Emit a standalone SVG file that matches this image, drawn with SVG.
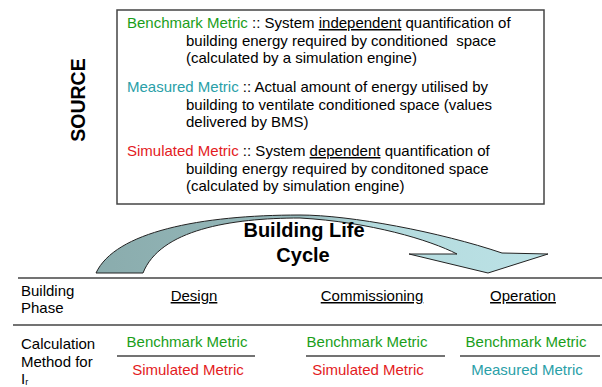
<svg xmlns="http://www.w3.org/2000/svg" width="602" height="387" viewBox="0 0 602 387">
<style>
  text { font-family: "Liberation Sans", Arial, sans-serif; font-size: 15px; fill: #000; white-space: pre; }
  .g { fill: #1a9e1a; }
  .c { fill: #2aa0a8; }
  .r { fill: #e31b23; }
  .u { text-decoration: underline; }
  .b { font-weight: bold; }
  .mid { text-anchor: middle; }
  .rule { stroke: #444; stroke-width: 1.5; fill: none; }
</style>
<defs>
  <linearGradient id="arrowGrad" gradientUnits="userSpaceOnUse" x1="96" y1="0" x2="548" y2="0">
    <stop offset="0" stop-color="#8aacad"/>
    <stop offset="0.45" stop-color="#96b9bb"/>
    <stop offset="0.6" stop-color="#b3dadd"/>
    <stop offset="1" stop-color="#bce2e6"/>
  </linearGradient>
</defs>
<rect width="602" height="387" fill="#fff"/>

<g id="source-label">
  <text class="b mid" transform="translate(85,100) rotate(-90)" style="font-size:19.5px">SOURCE</text>
</g>

<g id="source-box">
  <rect x="117" y="10" width="427" height="194" fill="#fff" stroke="#444" stroke-width="1.5"/>
  <text x="127" y="28"><tspan class="g">Benchmark Metric</tspan> :: System <tspan class="u">independent</tspan> quantification of</text>
  <text x="186" y="45.5">building energy required by conditioned  space</text>
  <text x="186" y="63">(calculated by a simulation engine)</text>
  <text x="127" y="92"><tspan class="c">Measured Metric</tspan> :: Actual amount of energy utilised by</text>
  <text x="186" y="109.5">building to ventilate conditioned space (values</text>
  <text x="186" y="127">delivered by BMS)</text>
  <text x="127" y="156"><tspan class="r">Simulated Metric</tspan> :: System <tspan class="u">dependent</tspan> quantification of</text>
  <text x="186" y="173.5">building energy required by conditoned space</text>
  <text x="186" y="191">(calculated by simulation engine)</text>
</g>

<g id="connectors">
  <path id="lifecycle-arrow" d="M96,273 C115,232 200,215 300,215 C350,215 440,232 502,253 L548,254 L488,273 L409,254 L457,254 C430,240 370,222 300,218 C230,218 160,230 143,273 Z" fill="url(#arrowGrad)" stroke="#222" stroke-width="1"/>
</g>

<g id="lifecycle-title">
  <text class="b mid" x="304" y="237" style="font-size:20px">Building Life</text>
  <text class="b mid" x="303" y="262" style="font-size:20px">Cycle</text>
</g>

<g id="table-rules">
  <line class="rule" x1="18" y1="278" x2="602" y2="278"/>
  <line class="rule" x1="13" y1="325" x2="602" y2="325"/>
  <line class="rule" x1="117" y1="356" x2="255" y2="356"/>
  <line class="rule" x1="306" y1="356" x2="445" y2="356"/>
  <line class="rule" x1="460" y1="356" x2="600" y2="356"/>
</g>

<g id="row-phase">
  <text x="21" y="296">Building</text>
  <text x="21" y="313">Phase</text>
  <text class="u mid" x="194" y="301">Design</text>
  <text class="u mid" x="372" y="301">Commissioning</text>
  <text class="u mid" x="523" y="301">Operation</text>
</g>

<g id="row-method">
  <text x="21" y="349">Calculation</text>
  <text x="21" y="366.5">Method for</text>
  <text x="21" y="384">I<tspan style="font-size:9px" dy="1">r</tspan></text>
  <text class="g mid" x="187" y="347">Benchmark Metric</text>
  <text class="r mid" x="188" y="375">Simulated Metric</text>
  <text class="g mid" x="367" y="347">Benchmark Metric</text>
  <text class="r mid" x="368" y="375">Simulated Metric</text>
  <text class="g mid" x="526" y="347">Benchmark Metric</text>
  <text class="c mid" x="527" y="375">Measured Metric</text>
</g>
</svg>
